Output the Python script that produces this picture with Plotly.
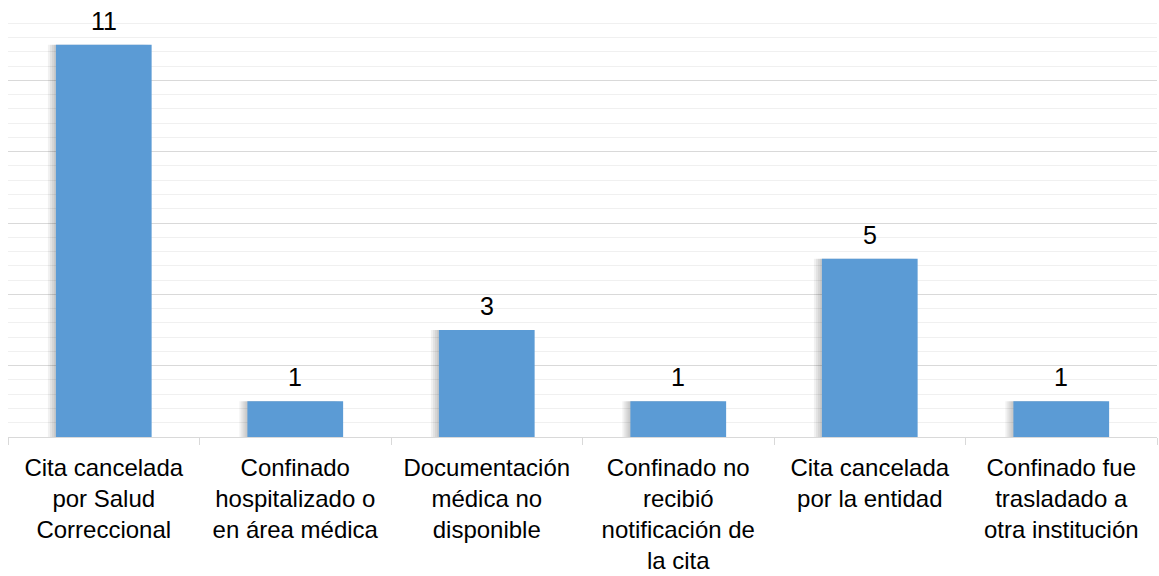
import plotly.graph_objects as go

categories = [
    "Cita cancelada<br>por Salud<br>Correccional",
    "Confinado<br>hospitalizado o<br>en área médica",
    "Documentación<br>médica no<br>disponible",
    "Confinado no<br>recibió<br>notificación de<br>la cita",
    "Cita cancelada<br>por la entidad",
    "Confinado fue<br>trasladado a<br>otra institución",
]
values = [11, 1, 3, 1, 5, 1]

font_family = "Liberation Sans, Arial, sans-serif"
BAR_W = 0.5
PX = 1.0 / 191.5  # one pixel in category units

fig = go.Figure()
# soft drop shadow (layered translucent copies shifted to the left)
for k in range(1, 5):
    fig.add_trace(go.Bar(
        x=categories, y=values,
        width=BAR_W, offset=-BAR_W / 2 - 2 * k * PX,
        marker=dict(color="rgba(0,0,0,0.055)", line=dict(width=0)),
        hoverinfo="skip",
    ))
fig.add_trace(go.Bar(
    x=categories, y=values,
    width=BAR_W, offset=-BAR_W / 2,
    marker=dict(color="#5B9BD5", line=dict(width=0)),
))

for c, v in zip(categories, values):
    fig.add_annotation(x=c, y=v, text=str(v), showarrow=False, yanchor="bottom",
                       yshift=8, font=dict(size=25, color="#000000", family=font_family))

fig.update_layout(
    width=1159, height=576,
    margin=dict(l=8, r=2, t=9, b=139),
    plot_bgcolor="white", paper_bgcolor="white",
    showlegend=False, barmode="overlay",
    font=dict(family=font_family, size=24, color="#000000"),
)
fig.update_xaxes(
    tickson="boundaries", ticks="outside", ticklen=7, tickcolor="#d9d9d9",
    showline=True, linecolor="#d9d9d9", linewidth=1,
    tickfont=dict(size=24, color="#000000", family=font_family),
    tickangle=0, automargin=False, ticklabelstandoff=9,
)
fig.update_yaxes(
    range=[0, 12], dtick=2, showticklabels=False,
    showgrid=True, gridcolor="#d9d9d9", gridwidth=1,
    zeroline=False, automargin=False,
    minor=dict(dtick=0.4, showgrid=True, gridcolor="#f0f0f0", gridwidth=1),
)

fig.write_html(
    "out.html",
    config={"displayModeBar": False},
    post_script="document.body.style.margin='0';document.body.style.overflow='hidden';",
)
